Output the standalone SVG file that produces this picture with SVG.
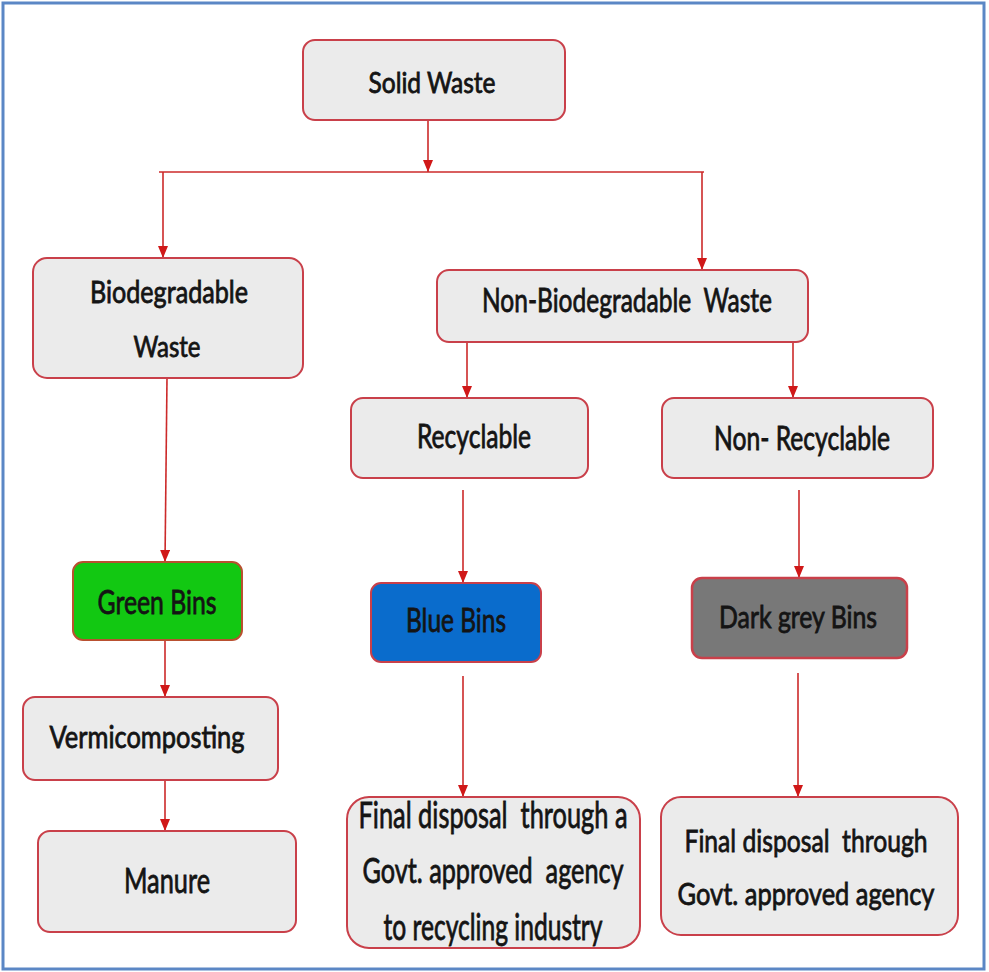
<svg xmlns="http://www.w3.org/2000/svg" width="989" height="972" viewBox="0 0 989 972">
<style>
.box{fill:#ebebeb;stroke:#c9404a;stroke-width:2}
.green{fill:#12c812;stroke:#b95030;stroke-width:2}
.blue{fill:#0a6ccc;stroke:#c9404a;stroke-width:2}
.grey{fill:#787878;stroke:#c9404a;stroke-width:2.5}
text{font-family:Lato,"Liberation Sans",Arial,sans-serif;font-size:32px;fill:#141414;stroke:#141414;stroke-width:0.8;text-anchor:middle;white-space:pre}
.conn line{stroke:#cc2a2a;stroke-width:1.6}
</style>
<defs>
<marker id="ah" viewBox="0 0 12 10" refX="12" refY="5" markerWidth="12" markerHeight="10" markerUnits="userSpaceOnUse" orient="auto">
<path d="M0,0 L12,5 L0,10 z" fill="#d01818"/>
</marker>
</defs>
<rect x="3" y="3" width="981" height="966" fill="none" stroke="#5b87c5" stroke-width="3"/>

<g class="conn" id="connectors">
<line x1="428" y1="120" x2="428" y2="172" marker-end="url(#ah)"/>
<line x1="159" y1="172" x2="704" y2="172"/>
<line x1="163" y1="172" x2="163" y2="258" marker-end="url(#ah)"/>
<line x1="702" y1="172" x2="702" y2="270" marker-end="url(#ah)"/>
<line x1="467" y1="342" x2="467" y2="398" marker-end="url(#ah)"/>
<line x1="793" y1="342" x2="793" y2="398" marker-end="url(#ah)"/>
<line x1="167" y1="378" x2="165" y2="562" marker-end="url(#ah)"/>
<line x1="165" y1="640" x2="165" y2="697" marker-end="url(#ah)"/>
<line x1="165" y1="780" x2="165" y2="831" marker-end="url(#ah)"/>
<line x1="463" y1="490" x2="463" y2="583" marker-end="url(#ah)"/>
<line x1="799" y1="490" x2="799" y2="578" marker-end="url(#ah)"/>
<line x1="463" y1="676" x2="463" y2="797" marker-end="url(#ah)"/>
<line x1="798" y1="673" x2="798" y2="797" marker-end="url(#ah)"/>
</g>

<g id="solid-waste">
<rect class="box" x="303" y="40" width="262" height="80" rx="12"/>
<text x="432" y="93" style="font-size:28px" textLength="127" lengthAdjust="spacingAndGlyphs">Solid Waste</text>
</g>
<g id="biodegradable">
<rect class="box" x="33" y="258" width="270" height="120" rx="14"/>
<text x="169" y="303" style="font-size:30px" textLength="158" lengthAdjust="spacingAndGlyphs">Biodegradable</text>
<text x="167" y="357" style="font-size:28px" textLength="67" lengthAdjust="spacingAndGlyphs">Waste</text>
</g>
<g id="non-biodegradable">
<rect class="box" x="437" y="270" width="371" height="72" rx="12"/>
<text x="627" y="312" style="font-size:33px" textLength="290" lengthAdjust="spacingAndGlyphs">Non-Biodegradable  Waste</text>
</g>
<g id="recyclable">
<rect class="box" x="351" y="398" width="237" height="80" rx="12"/>
<text x="474" y="448" textLength="114" lengthAdjust="spacingAndGlyphs">Recyclable</text>
</g>
<g id="non-recyclable">
<rect class="box" x="662" y="398" width="271" height="80" rx="12"/>
<text x="802" y="450" textLength="176" lengthAdjust="spacingAndGlyphs">Non- Recyclable</text>
</g>
<g id="green-bins">
<rect class="green" x="73" y="562" width="169" height="78" rx="10"/>
<text x="157" y="614" style="font-size:33px" textLength="119" lengthAdjust="spacingAndGlyphs">Green Bins</text>
</g>
<g id="blue-bins">
<rect class="blue" x="371" y="583" width="170" height="79" rx="10"/>
<text x="456" y="632" style="font-size:33px" textLength="100" lengthAdjust="spacingAndGlyphs">Blue Bins</text>
</g>
<g id="dark-grey-bins">
<rect class="grey" x="692" y="578" width="215" height="80" rx="10"/>
<text x="798" y="628" style="font-size:30px" textLength="158" lengthAdjust="spacingAndGlyphs">Dark grey Bins</text>
</g>
<g id="vermicomposting">
<rect class="box" x="23" y="697" width="255" height="83" rx="12"/>
<text x="147" y="748" style="font-size:30px" textLength="195" lengthAdjust="spacingAndGlyphs">Vermicomposting</text>
</g>
<g id="manure">
<rect class="box" x="38" y="831" width="258" height="101" rx="12"/>
<text x="167" y="893" style="font-size:35px" textLength="86" lengthAdjust="spacingAndGlyphs">Manure</text>
</g>
<g id="final-recycling">
<rect class="box" x="347" y="797" width="293" height="151" rx="22"/>
<text x="493" y="828" style="font-size:37px" textLength="269" lengthAdjust="spacingAndGlyphs">Final disposal  through a</text>
<text x="493" y="883" style="font-size:35px" textLength="261" lengthAdjust="spacingAndGlyphs">Govt. approved  agency</text>
<text x="493" y="940" style="font-size:36px" textLength="219" lengthAdjust="spacingAndGlyphs">to recycling industry</text>
</g>
<g id="final-disposal">
<rect class="box" x="661" y="797" width="297" height="138" rx="20"/>
<text x="806" y="852" style="font-size:31px" textLength="243" lengthAdjust="spacingAndGlyphs">Final disposal  through</text>
<text x="806" y="905" style="font-size:31px" textLength="257" lengthAdjust="spacingAndGlyphs">Govt. approved agency</text>
</g>
</svg>
